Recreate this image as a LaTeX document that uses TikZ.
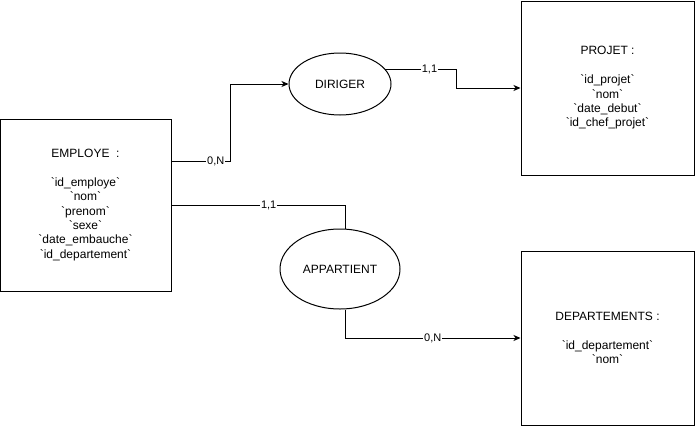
\documentclass[tikz,border=0pt]{standalone}
\usepackage{fontspec}
\setmainfont{Liberation Sans}[Ligatures=TeXOff]
\usetikzlibrary{shapes.geometric, arrows.meta}

\begin{document}
\begin{tikzpicture}[x=1pt, y=-1pt, line width=1pt,
  entity/.style={draw, rectangle, align=center, inner sep=0pt, font=\fontsize{12}{14.4}\selectfont},
  assoc/.style={draw, ellipse, inner sep=0pt, font=\fontsize{12}{14.4}\selectfont},
  card/.style={fill=white, inner sep=1pt, font=\fontsize{11}{13}\selectfont},
  >={Stealth[length=7pt, width=6pt, inset=2pt]}]
\useasboundingbox (0,0) rectangle (696,426);

\node[entity, minimum width=171pt, minimum height=172pt] (employe) at (85.5,205)
  {EMPLOYE~ :\\[14.4pt]`id\_employe`\\`nom`\\`prenom`\\`sexe`\\`date\_embauche`\\`id\_departement`};
\node[entity, minimum width=173pt, minimum height=174pt] (projet) at (607.5,88)
  {PROJET :\\[14.4pt]`id\_projet`\\`nom`\\`date\_debut`\\`id\_chef\_projet`};
\node[entity, minimum width=173pt, minimum height=174pt] (departements) at (607.5,338)
  {DEPARTEMENTS :\\[14.4pt]`id\_departement`\\`nom`};

\node[assoc, minimum width=102pt, minimum height=62pt] (diriger) at (340,84) {DIRIGER};
\node[assoc, minimum width=120pt, minimum height=80pt] (appartient) at (340,269) {APPARTIENT};

\draw[->] ([yshift=44pt]employe.east) -- node[card, pos=.75]{0,N} ++(59,0) |- (diriger.west);
\draw[->] (diriger.18) -- node[card, pos=.62]{1,1} ++(71,0) |- (projet.west);
\draw (employe.east) -| node[card, pos=.28]{1,1} ([xshift=5pt]appartient.north);
\draw[->] ([xshift=5pt]appartient.south) |- node[card, pos=.75]{0,N} (departements.west);
\end{tikzpicture}
\end{document}
